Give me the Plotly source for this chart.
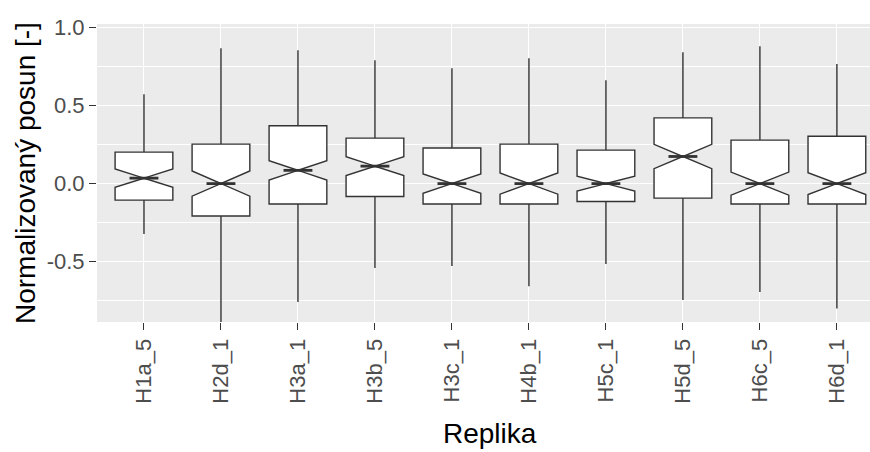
import plotly.graph_objects as go

categories = ["H1a_5", "H2d_1", "H3a_1", "H3b_5", "H3c_1", "H4b_1", "H5c_1", "H5d_5", "H6c_5", "H6d_1"]
upper_whisker = [0.574, 0.869, 0.856, 0.792, 0.740, 0.804, 0.663, 0.843, 0.881, 0.768]
q3_values = [0.202, 0.253, 0.371, 0.292, 0.228, 0.253, 0.215, 0.422, 0.279, 0.304]
median_values = [0.035, 0.0, 0.085, 0.112, 0.0, 0.0, 0.0, 0.174, 0.0, 0.0]
q1_values = [-0.106, -0.208, -0.131, -0.083, -0.131, -0.131, -0.115, -0.093, -0.131, -0.131]
lower_whisker = [-0.324, -0.95, -0.760, -0.542, -0.529, -0.659, -0.516, -0.747, -0.696, -0.801]
notch_half = [0.059, 0.081, 0.062, 0.060, 0.062, 0.068, 0.048, 0.078, 0.074, 0.070]

y_tickvals = [-0.5, 0.0, 0.5, 1.0]
y_ticktext = ["-0.5", "0.0", "0.5", "1.0"]
y_minor = [-0.75, -0.25, 0.25, 0.75]

BOX_W = 0.75
LINE = "#333333"
FONT = "Liberation Sans, Arial, Helvetica, sans-serif"

pos = list(range(1, len(categories) + 1))

fig = go.Figure()
fig.add_trace(go.Box(
    x=pos, q1=q1_values, median=median_values, q3=q3_values,
    lowerfence=lower_whisker, upperfence=upper_whisker, notchspan=notch_half,
    notched=True, notchwidth=0.5, width=BOX_W, whiskerwidth=0,
    fillcolor="white", line=dict(color=LINE, width=1.4),
    boxpoints=False, showlegend=False, hoverinfo="skip",
))

# thicker median segments (ggplot fatten)
mx, my = [], []
half_med = BOX_W / 2 * 0.5
for p, m in zip(pos, median_values):
    mx += [p - half_med, p + half_med, None]
    my += [m, m, None]
fig.add_trace(go.Scatter(x=mx, y=my, mode="lines", line=dict(color=LINE, width=2.8),
                         showlegend=False, hoverinfo="skip"))

fig.update_layout(
    width=870, height=452,
    margin=dict(l=97, r=0, t=24, b=130),
    paper_bgcolor="white", plot_bgcolor="#EBEBEB",
    font=dict(family=FONT, color="#4D4D4D", size=22),
    annotations=[
        dict(text="Normalizovaný posun [-]", xref="paper", yref="paper",
             x=(25 - 97) / 773, y=0.5, xanchor="center", yanchor="middle",
             textangle=-90, showarrow=False, font=dict(size=28, color="black", family=FONT)),
        dict(text="Replika", xref="paper", yref="paper",
             x=(490 - 97) / 773, y=-(434 - 322) / 298, xanchor="center", yanchor="middle",
             showarrow=False, font=dict(size=28, color="black", family=FONT)),
    ],
)
fig.update_xaxes(
    range=[0.39, 10.43], tickvals=pos, ticktext=categories, tickangle=-90,
    showgrid=True, gridcolor="white", gridwidth=1.4, zeroline=False,
    ticks="outside", ticklen=7, tickwidth=1.3, tickcolor=LINE,
    tickfont=dict(size=22, color="#4D4D4D"), showline=False,
)
fig.update_yaxes(
    range=[-0.888, 1.024], tickvals=y_tickvals, ticktext=y_ticktext,
    showgrid=True, gridcolor="white", gridwidth=1.4, zeroline=False,
    ticks="outside", ticklen=7, tickwidth=1.3, tickcolor=LINE,
    tickfont=dict(size=22, color="#4D4D4D"), showline=False,
    minor=dict(tickvals=y_minor, showgrid=True, gridcolor="white", gridwidth=0.7, ticks=""),
)

fig.write_html("out.html")
